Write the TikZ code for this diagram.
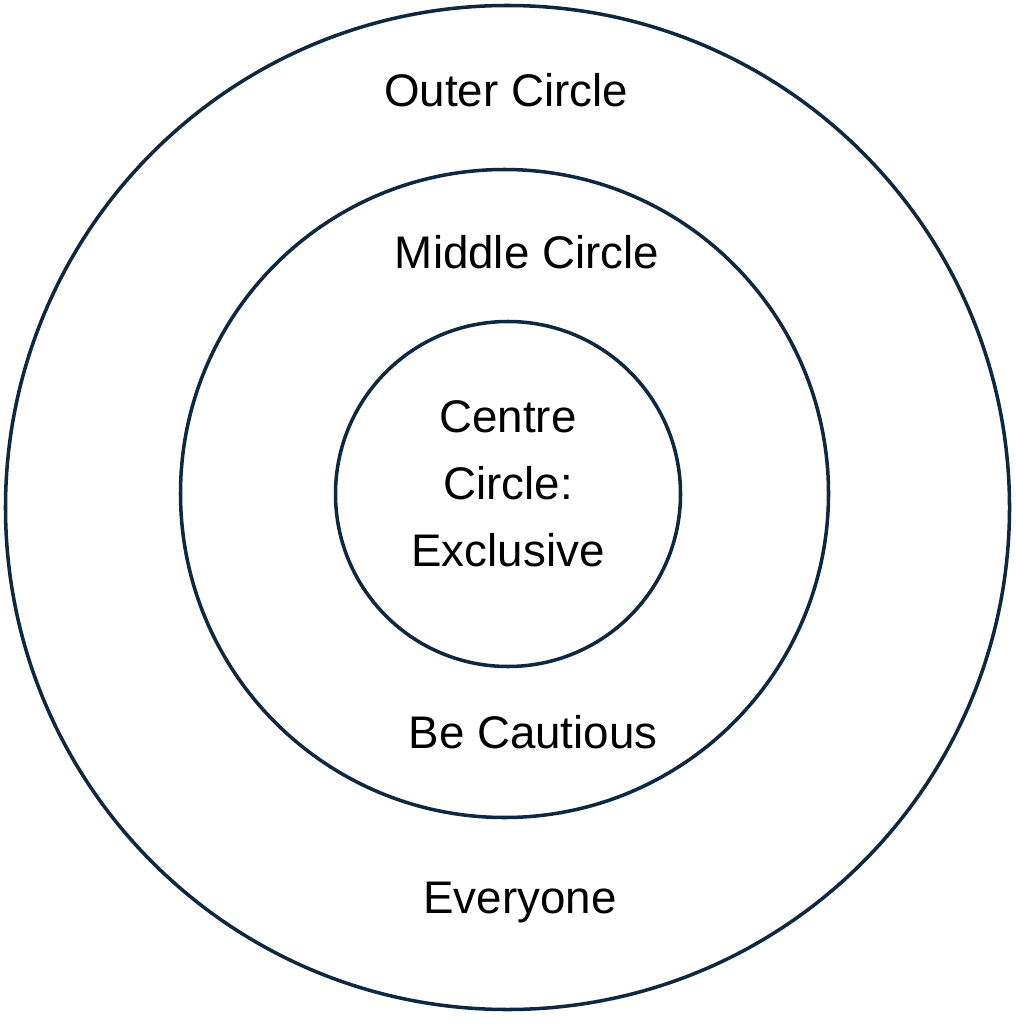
\documentclass[tikz,border=0pt]{standalone}
\usepackage{fontspec}
\setmainfont{Liberation Sans}
\usepackage{tikz}
\usepackage{xcolor}
\definecolor{ringnavy}{HTML}{0E2841}
\tikzset{
  ring/.style={draw=ringnavy,line width=2.5pt,circle,inner sep=0pt},
  lbl/.style={anchor=base,inner sep=0pt,text=black,font=\fontsize{32.5}{40}\selectfont}
}

\begin{document}
\begin{tikzpicture}[x=0.025cm,y=-0.025cm]
\useasboundingbox (0,0) rectangle (1015,1024);
\node[ring,minimum size=1004*0.025cm] (outer) at (507.5,507.5) {};
\node[ring,minimum size=648*0.025cm] (middle) at (504.5,493.5) {};
\node[ring,minimum size=345*0.025cm] (centre) at (508,494) {};
\node[lbl] (outerlbl) at (506,107) {Outer Circle};
\node[lbl] (middlelbl) at (527,268) {Middle Circle};
\node[lbl] (centrelbl1) at (508,432) {Centre};
\node[lbl] (centrelbl2) at (508,499) {Circle:};
\node[lbl] (centrelbl3) at (508,566) {Exclusive};
\node[lbl] (cautionlbl) at (533,748) {Be Cautious};
\node[lbl] (everyonelbl) at (520,913) {Everyone};
\end{tikzpicture}
\end{document}
